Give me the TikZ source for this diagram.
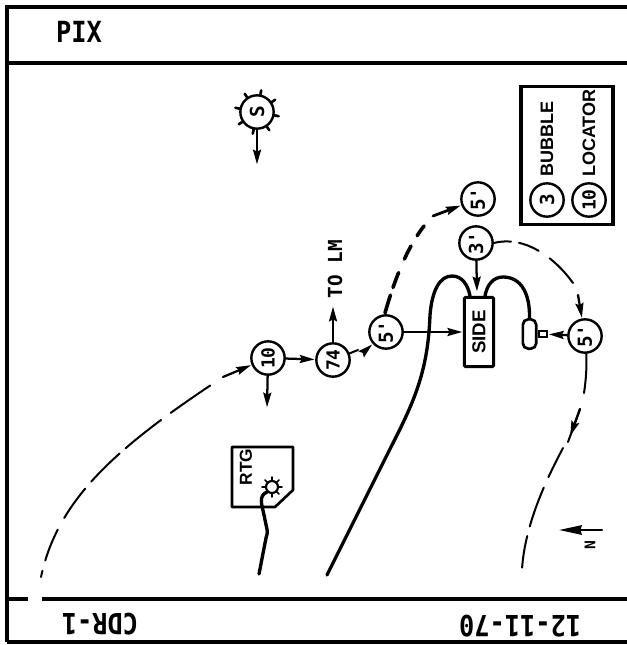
\documentclass[tikz,border=0pt]{standalone}
\usepackage{fontspec}
\setmainfont{Liberation Sans}
\newfontfamily\monof{DejaVu Sans Mono}
\usetikzlibrary{arrows.meta}
\newcommand{\tallbox}[1]{\scalebox{1}[1.15]{#1}}
\tikzset{
  x=0.75pt,y=-0.75pt,
  ink/.style={draw=black,line cap=round},
  frameline/.style={ink,line width=3.6pt,line cap=butt},
  bub/.style={circle,draw=black,line width=1.8pt,minimum size=25pt,inner sep=0pt,fill=white,rotate=90,font=\monof\bfseries\fontsize{14.5}{14.5}\selectfont},
  head/.style={font=\monof\bfseries\fontsize{19}{19}\selectfont,inner sep=0pt,rotate=180},
  arr/.style={ink,line width=1.7pt,-{Stealth[length=11pt,width=6pt,inset=1.5pt]},shorten >=0.5pt},
  wire/.style={ink,line width=2.5pt},
  dthin/.style={ink,line width=1.5pt},
  dthick/.style={ink,line width=2.7pt},
  vlab/.style={rotate=90,inner sep=0pt,font=\bfseries\fontsize{13.5}{13.5}\selectfont},
}
\begin{document}
\begin{tikzpicture}
\useasboundingbox (0,0) rectangle (627,645);
\fill[white] (0,0) rectangle (627,645);
% frame
\coordinate (tl) at (7,7); \coordinate (tr) at (627,7);
\coordinate (bl) at (7,642); \coordinate (br) at (627,642);
\coordinate (hl) at (7,63); \coordinate (hr) at (627,63);
\coordinate (fl) at (7,599); \coordinate (fg1) at (28,599); \coordinate (fg2) at (42,599); \coordinate (fr) at (627,599);
\draw[frameline] (bl) -- (tl) -- (tr);
\draw[ink,line width=2.4pt,line cap=butt] (bl) -- (br);
\draw[frameline] (hl) -- (hr);
\draw[frameline] (fl) -- (fg1);
\draw[frameline] (fg2) -- (fr);
% header and footer text
\node[head,rotate=180] (pix) at (79,32) {\tallbox{PIX}};
\node[head] (cdr) at (100,624) {\tallbox{CDR-1}};
\node[head] (date) at (520,626) {\tallbox{12-11-70}};
% sun
\node[bub] (sun) at (257,112) {S};
\foreach \a in {34,79,124,169,214,259,304,349}{
  \draw[ink,line width=2pt] (sun.center) ++(\a:12.5pt) -- ++(\a:4pt);
}
\coordinate (sunend) at (257,165);
\draw[arr] (sun) -- (sunend);
% legend
\node[draw=black,line width=2.4pt,minimum width=69pt,minimum height=104pt,inner sep=0pt] (legend) at (567,155.5) {};
\node[bub] (lb) at (547,200) {3};
\node[bub,font=\monof\bfseries\fontsize{13.5}{13.5}\selectfont] (ll) at (589,200) {10};
\node[vlab,anchor=west] (lbt) at (547,177) {BUBBLE};
\node[vlab,anchor=west] (llt) at (589,177) {LOCATOR};
% bubbles
\node[bub] (top5) at (478,199) {5'};
\node[bub] (b3) at (476,243) {3'};
\node[bub] (mid5) at (386,332) {5'};
\node[bub] (right5) at (585,336) {5'};
\node[bub,font=\monof\bfseries\fontsize{13.5}{13.5}\selectfont] (n10) at (268,358) {10};
\node[bub,font=\monof\bfseries\fontsize{13.5}{13.5}\selectfont] (n74) at (333,360) {74};
% side
\node[draw=black,line width=2.2pt,rounded corners=1pt,minimum width=22pt,minimum height=52pt,inner sep=0pt] (side) at (479,332) {};
\node[vlab,font=\bfseries\fontsize{14}{14}\selectfont] (sidet) at (479,332) {SIDE};
% pod
\node[draw=black,line width=2pt,rounded corners=4pt,minimum width=10pt,minimum height=22pt,inner sep=0pt] (pod) at (529.5,334) {};
\node[draw=black,line width=1.6pt,minimum width=6.5pt,minimum height=4.5pt,inner sep=0pt,anchor=west] (stub) at (pod.east) {};
% wires
\coordinate (w1) at (327,575);
\draw[wire] (w1) -- (392,445) .. controls (415,400) and (428,370) .. (430,315) .. controls (432,290) and (440,276) .. (452,276) .. controls (462,276) and (468,285) .. ([xshift=-6.75pt]side.north);
\draw[wire] ([xshift=4.5pt]side.north) .. controls (487,285) and (493,277) .. (503,277) .. controls (522,277) and (530,295) .. (pod.north);
% solid arrows
\coordinate (tolm) at (333,306);
\coordinate (down10) at (267,408);
\coordinate (b3end) at (477,292);
\draw[arr] (n74) -- (tolm);
\draw[arr] (n10) -- (down10);
\draw[arr] (n10) -- (n74);
\draw[arr] (mid5) -- (side);
\draw[arr] (b3) -- (b3end);
\draw[arr] (right5) -- (stub);
% 74 to 5'
\coordinate (d74) at (358,350);
\coordinate (a74) at (366,350);
\draw[dthin] (n74) -- (d74);
\draw[arr] (a74) -- (mid5);
% long approach
\coordinate (s0) at (41,577);
\coordinate (a10) at (223,377);
\draw[dthin,dash pattern=on 4.8pt off 8pt on 25pt off 10pt on 27pt off 7pt on 30pt off 6pt on 34pt off 9pt on 36pt off 100pt] (s0) .. controls (58,497) and (120,445) .. (a10);
\draw[arr] (a10) -- (n10);
% thick dashed
\coordinate (a5) at (433,216);
\coordinate (mid5top) at (385,313);
\draw[dthick,dash pattern=on 14pt off 6pt on 12pt off 11pt on 11pt off 9pt on 9pt off 100pt] (mid5top) .. controls (393,285) and (408,240) .. (a5);
\draw[arr,line width=2.1pt] (a5) -- (top5);
% 3' to right 5'
\coordinate (q0) at (573,283);
\coordinate (q1) at (578,295);
\draw[dthin,dash pattern=on 13pt off 6pt on 16pt off 10pt on 30pt off 100pt] (b3.south) .. controls (525,235) and (555,258) .. (q0);
\draw[arr] (q1) -- (right5);
% right 5' descending
\coordinate (r1) at (584,393);
\coordinate (r2) at (580,409);
\coordinate (r3) at (568,442);
\coordinate (r4) at (563,448);
\coordinate (r5) at (522,569);
\draw[dthin] (right5) .. controls (587,365) and (586,380) .. (r1);
\draw[dthin] (r2) -- (r3);
\draw[arr,shorten >=5pt] (r2) -- (r3);
\draw[dthin,dash pattern=on 24.5pt off 8.5pt on 31pt off 7.5pt on 24pt off 100pt] (r4) .. controls (545,482) and (525,525) .. (r5);
% TO LM
\node[rotate=90,inner sep=0pt,font=\monof\bfseries\fontsize{14.5}{14.5}\selectfont] (tolmt) at (335,269) {TO LM};
% RTG
\draw[ink,line width=2pt,line join=round] (232,447) -- (293,447) -- (293,490) -- (275,507) -- (232,507) -- cycle;
\node[vlab,font=\fontsize{13}{13}\selectfont\bfseries] (rtg) at (246,467) {RTG};
\node[circle,draw=black,line width=1.6pt,minimum size=9pt,inner sep=0pt,fill=white] (star) at (272,487) {};
\foreach \a in {0,45,90,135,180,225,270,315}{
  \draw[ink,line width=1.2pt] (star.center) ++(\a:4.5pt) -- ++(\a:3pt);
}
\coordinate (rw) at (259,574);
\draw[wire] (star.south west) .. controls (258,496) and (262,505) .. (264,515) .. controls (268,535) and (268,530) .. (266,538) -- (rw);
% north arrow
\coordinate (nt) at (602,530);
\coordinate (nh) at (559,530);
\draw[ink,line width=1.8pt,-{Stealth[length=17pt,width=7pt,inset=1pt]}] (nt) -- (nh);
\node[rotate=90,inner sep=0pt,font=\monof\bfseries\fontsize{11}{11}\selectfont] (nlab) at (590,545) {N};
\end{tikzpicture}
\end{document}
